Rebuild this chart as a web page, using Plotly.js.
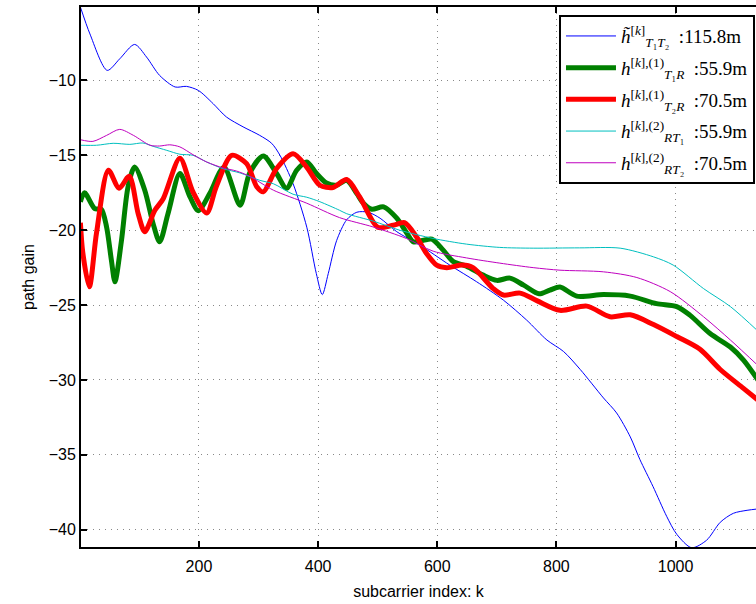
<!DOCTYPE html>
<html>
<head>
<meta charset="utf-8">
<script src="https://cdn.plot.ly/plotly-3.0.1.min.js"></script>
<style>html,body{margin:0;padding:0;background:#fff;}#chart{width:756px;height:604px;}</style>
</head>
<body>
<div id="chart"></div>
<script>
// subcarrier indices and path gains
const blueK = [1, 17, 46, 67, 92, 112, 134, 160, 179, 199, 224, 246, 274, 302, 322, 336, 358, 381, 397, 407, 417, 431, 448, 465, 484, 504, 532, 571, 621, 666, 711, 750, 784, 812, 840, 879, 901, 924, 940, 962, 985, 1002, 1027, 1052, 1075, 1097, 1120, 1140];
const blueV = [-5.1, -6.9, -9.33, -8.56, -7.6, -8.44, -9.67, -10.44, -10.4, -10.67, -11.56, -12.44, -13.1, -13.67, -14.2, -15, -16.9, -19.8, -22.9, -24.3, -22.9, -20.7, -19.3, -18.8, -18.8, -19.2, -20.1, -21, -22.33, -23.44, -24.67, -26, -27.33, -28.1, -29.3, -31.2, -32.2, -33.8, -35.3, -37.1, -39.1, -40.3, -41.2, -40.7, -39.5, -38.9, -38.7, -38.6];

const greenK = [1, 8, 25, 36, 45, 53, 59, 70, 81, 92, 109, 123, 134, 148, 168, 185, 199, 218, 242, 269, 285, 308, 330, 347, 364, 381, 397, 414, 431, 448, 465, 476, 490, 510, 532, 549, 560, 577, 591, 610, 627, 649, 677, 700, 722, 745, 771, 789, 806, 834, 879, 924, 968, 1002, 1024, 1058, 1092, 1114, 1140];
const greenV = [-18.1, -17.5, -18.56, -18.6, -19.8, -22, -23.44, -20.67, -17.1, -15.78, -17.33, -19.56, -20.78, -18.9, -16.22, -17.78, -18.7, -17.56, -15.8, -18.33, -16.2, -15.04, -16.2, -17.2, -16, -15.44, -16.2, -16.85, -17, -16.67, -17.56, -18.2, -18.6, -18.44, -19.2, -20.2, -20.78, -20.67, -20.6, -21.33, -22.1, -22.4, -23, -23.35, -23.2, -23.67, -24.25, -24, -23.8, -24.4, -24.3, -24.4, -24.9, -25.1, -25.67, -26.9, -27.8, -28.67, -30.1];

const redK = [1, 5, 16, 28, 48, 66, 83, 98, 109, 126, 140, 168, 190, 213, 229, 255, 280, 297, 308, 330, 358, 381, 403, 425, 448, 470, 500, 526, 545, 565, 582, 599, 616, 642, 660, 694, 711, 739, 767, 806, 851, 890, 924, 963, 1002, 1041, 1075, 1114, 1140];
const redV = [-19.5, -21.5, -23.78, -20.2, -16, -17.2, -16.4, -18.9, -20.1, -18.67, -17.9, -15.2, -17.45, -18.85, -17.1, -15, -15.56, -17.1, -17.44, -15.9, -14.9, -15.8, -17, -17.15, -16.62, -17.8, -19.8, -19.67, -19.5, -20.44, -21.55, -22.33, -22.5, -22.33, -22.5, -23.9, -24.33, -24.2, -24.7, -25.35, -25.07, -25.78, -25.65, -26.3, -27.1, -27.95, -29.3, -30.56, -31.4];

const cyanK = [1, 28, 56, 84, 106, 123, 146, 168, 190, 213, 241, 269, 302, 325, 358, 381, 403, 436, 448, 493, 537, 593, 649, 705, 761, 839, 907, 963, 996, 1047, 1092, 1140];
const cyanV = [-14.33, -14.33, -14.2, -14.27, -14.18, -14.4, -14.67, -14.93, -15, -15.45, -15.9, -16.18, -16.67, -16.9, -17.6, -17.8, -18.1, -18.67, -18.9, -19.4, -20, -20.55, -20.93, -21.15, -21.2, -21.18, -21.2, -21.78, -22.33, -23.9, -25.1, -26.8];

const magK = [1, 22, 45, 67, 90, 118, 134, 151, 168, 190, 213, 241, 263, 285, 325, 381, 436, 492, 548, 593, 649, 705, 761, 806, 879, 935, 991, 1047, 1092, 1140];
const magV = [-13.96, -14.07, -13.67, -13.27, -13.67, -14.33, -14.38, -14.3, -14.44, -14.96, -15.45, -15.85, -16.05, -16.4, -17.33, -18.2, -19.16, -19.78, -20.55, -21.4, -21.85, -22.2, -22.5, -22.67, -22.78, -23.16, -24.1, -25.78, -27.33, -29.1];

const names = [
  '<i>h̃</i><sup>[<i>k</i>]</sup><sub><i>T</i>₁<i>T</i>₂</sub>  :115.8m',
  '<i>h</i><sup>[<i>k</i>],(1)</sup><sub><i>T</i>₁<i>R</i></sub>  :55.9m',
  '<i>h</i><sup>[<i>k</i>],(1)</sup><sub><i>T</i>₂<i>R</i></sub>  :70.5m',
  '<i>h</i><sup>[<i>k</i>],(2)</sup><sub><i>RT</i>₁</sub>  :55.9m',
  '<i>h</i><sup>[<i>k</i>],(2)</sup><sub><i>RT</i>₂</sub>  :70.5m'
];

const colors = ['#0000ff', '#008000', '#ff0000', '#00bfbf', '#bf00bf'];
const widths = [1, 5, 5, 1, 1];
const xs = [blueK, greenK, redK, cyanK, magK];
const ys = [blueV, greenV, redV, cyanV, magV];

const traces = names.map((n, i) => ({
  type: 'scatter', mode: 'lines',
  x: xs[i], y: ys[i], name: n, legendgroup: 'g' + i,
  line: {color: colors[i], width: widths[i], shape: 'spline', smoothing: 0.8}
}));

const axFont = {family: 'Liberation Sans, Arial, sans-serif', size: 16, color: '#000'};

const layout = {
  width: 756, height: 604,
  margin: {l: 81, r: 0, t: 7, b: 57},
  paper_bgcolor: '#fff', plot_bgcolor: '#fff',
  showlegend: true,
  legend: {
    x: 0.9985, xanchor: 'right', y: 0.985, yanchor: 'top',
    bgcolor: '#fff', bordercolor: '#000', borderwidth: 2,
    font: {family: 'Liberation Serif, DejaVu Serif, serif', size: 19, color: '#000'},
    tracegroupgap: 4, itemwidth: 50
  },
  xaxis: {
    range: [2, 1135],
    tickvals: [200, 400, 600, 800, 1000],
    ticks: 'inside', ticklen: 6, tickwidth: 2, tickcolor: '#000',
    ticklabelstandoff: 4,
    showline: true, linewidth: 2, linecolor: '#000', mirror: 'ticks',
    showgrid: true, gridcolor: '#888', griddash: '1px,5px', gridwidth: 1,
    zeroline: false,
    tickfont: axFont,
    title: {text: 'subcarrier index: k', font: axFont, standoff: 12}
  },
  yaxis: {
    range: [-41.15, -5.1],
    tickvals: [-40, -35, -30, -25, -20, -15, -10],
    ticks: 'inside', ticklen: 6, tickwidth: 2, tickcolor: '#000',
    showline: true, linewidth: 2, linecolor: '#000', mirror: false,
    showgrid: true, gridcolor: '#888', griddash: '1px,5px', gridwidth: 1,
    zeroline: false,
    tickfont: axFont,
    title: {text: 'path gain', font: axFont, standoff: 10}
  }
};

Plotly.newPlot('chart', traces, layout, {displayModeBar: false, staticPlot: true});
</script>
</body>
</html>
